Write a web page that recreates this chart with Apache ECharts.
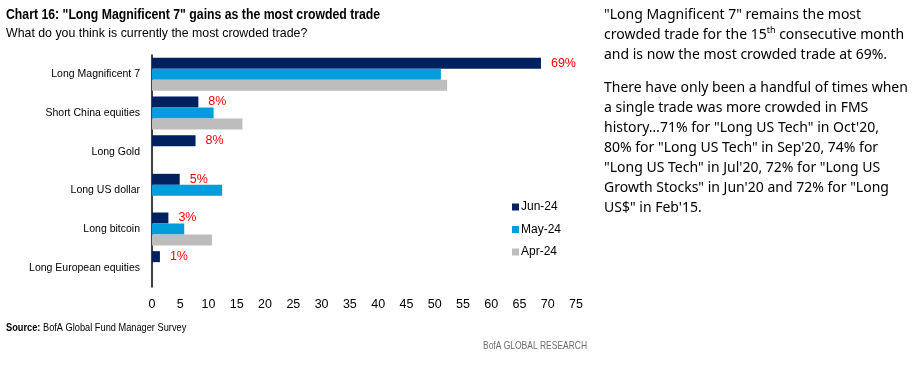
<!DOCTYPE html>
<html><head><meta charset="utf-8">
<script src="https://cdn.jsdelivr.net/npm/echarts@6/dist/echarts.min.js"></script>
<style>html,body{margin:0;padding:0;background:#fff}#c{width:918px;height:365px}</style>
</head><body><div id="c"></div>
<script>
const categories = ['Long Magnificent 7','Short China equities','Long Gold','Long US dollar','Long bitcoin','Long European equities'];
const jun24 = [68.8, 8.2, 7.7, 4.9, 2.9, 1.4];
const may24 = [51.1, 10.9, null, 12.4, 5.7, null];
const apr24 = [52.2, 16.0, null, null, 10.6, null];
const junLabels = ['69%','8%','8%','5%','3%','1%'];
const xTicks = [0,5,10,15,20,25,30,35,40,45,50,55,60,65,70,75];
const seriesNames = ['Jun-24','May-24','Apr-24'];

const F = '"Liberation Sans",Arial,sans-serif';
const chart = echarts.init(document.getElementById('c'), null, {renderer:'canvas'});
chart.setOption({
  animation:false,
  textStyle:{fontFamily:F},
  graphic:[
    {type:'text', x:6, y:15, scaleX:0.876, style:{
      text:'Chart 16: "Long Magnificent 7" gains as the most crowded trade',
      font:'bold 14px "Liberation Sans"', fill:'#000', verticalAlign:'middle'}},
    {type:'text', x:6, y:33, scaleX:0.95, style:{
      text:'What do you think is currently the most crowded trade?',
      font:'13px "Liberation Sans"', fill:'#000', verticalAlign:'middle'}},
    {type:'text', x:6, y:328, scaleX:0.84, style:{
      text:'{b|Source:} BofA Global Fund Manager Survey',
      font:'11px "Liberation Sans"', fill:'#000', verticalAlign:'middle',
      rich:{b:{font:'bold 11px "Liberation Sans"', fill:'#000'}}}},
    {type:'text', x:483, y:346, scaleX:0.77, style:{
      text:'BofA GLOBAL RESEARCH',
      font:'11px "Liberation Sans"', fill:'#6d6d6d', verticalAlign:'middle'}},
    {type:'text', x:604, y:5.5, style:{
      text:'"Long Magnificent 7" remains the most\ncrowded trade for the 15{s|th} consecutive month\nand is now the most crowded trade at 69%.',
      font:'14px "Noto Sans"', fill:'#000', lineHeight:20,
      rich:{s:{font:'9px "Noto Sans"', verticalAlign:'top', fill:'#000', lineHeight:20}}
    }},
    {type:'text', x:604, y:78.5, style:{
      text:'There have only been a handful of times when\na single trade was more crowded in FMS\nhistory\u202671% for "Long US Tech" in Oct\'20,\n80% for "Long US Tech" in Sep\'20, 74% for\n"Long US Tech" in Jul\'20, 72% for "Long US\nGrowth Stocks" in Jun\'20 and 72% for "Long\nUS$" in Feb\'15.',
      font:'14px "Noto Sans"', fill:'#000', lineHeight:20
    }}
  ],
  legend:{
    orient:'vertical', left:507, top:196, itemWidth:7, itemHeight:7, itemGap:10.5,
    icon:'rect', data:seriesNames,
    textStyle:{fontFamily:F, fontSize:12, color:'#000', padding:[0,0,0,-3]}
  },
  grid:{left:152, right:342, top:55, height:232, containLabel:false},
  xAxis:{type:'value', min:0, max:75, interval:5,
    axisLine:{show:false}, axisTick:{show:false}, splitLine:{show:false},
    axisLabel:{color:'#000', fontSize:12.5, fontFamily:F, margin:11,
      formatter:v=> xTicks.includes(v) ? String(v) : ''}},
  yAxis:{type:'category', data:categories, inverse:true,
    axisLine:{lineStyle:{color:'#000', width:1.5}}, axisTick:{show:false},
    axisLabel:{color:'#000', fontSize:10.5, fontFamily:F, margin:12}},
  series:[
    {name:seriesNames[0], type:'bar', data:jun24, barWidth:11, barGap:'0%', barCategoryGap:'15%',
     itemStyle:{color:'#002060'},
     label:{show:true, position:'right', distance:10, color:'#ff0000', fontSize:12.5, fontFamily:F,
       formatter:p=>junLabels[p.dataIndex]}},
    {name:seriesNames[1], type:'bar', data:may24, barWidth:11, barGap:'0%', itemStyle:{color:'#009ddc'}},
    {name:seriesNames[2], type:'bar', data:apr24, barWidth:11, barGap:'0%', itemStyle:{color:'#bdbdbd'}}
  ]
});
</script></body></html>
